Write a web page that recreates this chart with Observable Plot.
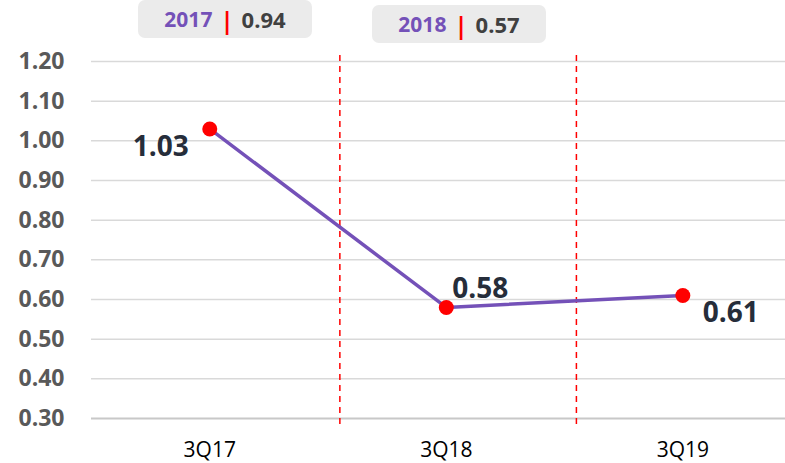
<!DOCTYPE html>
<html>
<head>
<meta charset="utf-8">
<script src="https://cdn.jsdelivr.net/npm/d3@7"></script>
<script src="https://cdn.jsdelivr.net/npm/@observablehq/plot@0.6"></script>
<style>
  body { margin: 0; background: #fff; }
  #wrap { position: relative; width: 785px; height: 463px; font-family: "Open Sans", sans-serif; }
  .box { position: absolute; background: #ebebeb; border-radius: 7px; height: 38px; width: 174px;
         display: flex; align-items: center; justify-content: center; font-weight: bold; font-size: 21px; }
  .yr { color: #7451b8; }
  .bar { color: #ff0000; margin: 0 8px; font-size: 24px; }
  .val { color: #404040; font-size: 22px; }
</style>
</head>
<body>
<div id="wrap"></div>
<script>
const categories = ["3Q17", "3Q18", "3Q19"];
const values = [1.03, 0.58, 0.61];
const yTicks = [0.3, 0.4, 0.5, 0.6, 0.7, 0.8, 0.9, 1.0, 1.1, 1.2];
const dividers = [0.55, 1.55]; // between quarters, in category-index units
const annoYears = ["2017", "2018"];
const annoValues = [0.94, 0.57];

const data = categories.map((c, i) => ({i, c, v: values[i]}));
const placement = [
  {anchor: "end", dx: -21, dy: 18},
  {anchor: "start", dx: 6, dy: -18},
  {anchor: "start", dx: 20, dy: 17}
];

const chart = Plot.plot({
  width: 785,
  height: 463,
  marginTop: 61,
  marginBottom: 45,
  marginLeft: 91,
  marginRight: 0,
  style: {fontFamily: "'Open Sans', sans-serif", background: "transparent"},
  x: {domain: [-0.5, 2.434], label: null},
  y: {domain: [0.3, 1.2], label: null},
  marks: [
    Plot.ruleY(yTicks.filter(t => t > 0.3), {stroke: "#d9d9d9", strokeWidth: 1.5}),
    Plot.ruleY([0.3], {stroke: "#c8c8c8", strokeWidth: 2}),
    Plot.ruleX(dividers, {y1: 1.215, y2: 0.282, stroke: "#ff0000", strokeWidth: 1.5, strokeDasharray: "6,5"}),
    Plot.axisX({ticks: [0, 1, 2], tickFormat: i => categories[i], tickSize: 0, tickPadding: 24, fontSize: 21, fill: "#000", label: null}),
    Plot.axisY({ticks: yTicks, tickFormat: d => d.toFixed(2), tickSize: 0, tickPadding: 27, fontSize: 23, fontWeight: "bold", fill: "#595959", label: null}),
    Plot.line(data, {x: "i", y: "v", stroke: "#7451b8", strokeWidth: 3.5}),
    Plot.dot(data, {x: "i", y: "v", r: 7.5, fill: "#ff0000", stroke: "none"}),
    ...data.map((d, k) => Plot.text([d], {
      x: "i", y: "v", text: e => e.v.toFixed(2),
      textAnchor: placement[k].anchor, dx: placement[k].dx, dy: placement[k].dy,
      fontSize: 28, fontWeight: "bold", fill: "#262d3a"
    }))
  ]
});

const wrap = document.getElementById("wrap");
wrap.appendChild(chart);
chart.style.position = "absolute";
chart.style.left = "0";
chart.style.top = "0";

const boxPos = [{left: 138, top: 0}, {left: 372, top: 5}];
annoYears.forEach((yr, k) => {
  const b = document.createElement("div");
  b.className = "box";
  b.style.left = boxPos[k].left + "px";
  b.style.top = boxPos[k].top + "px";
  b.innerHTML = `<span class="yr">${yr}</span><span class="bar">|</span><span class="val">${annoValues[k].toFixed(2)}</span>`;
  wrap.appendChild(b);
});
</script>
</body>
</html>
